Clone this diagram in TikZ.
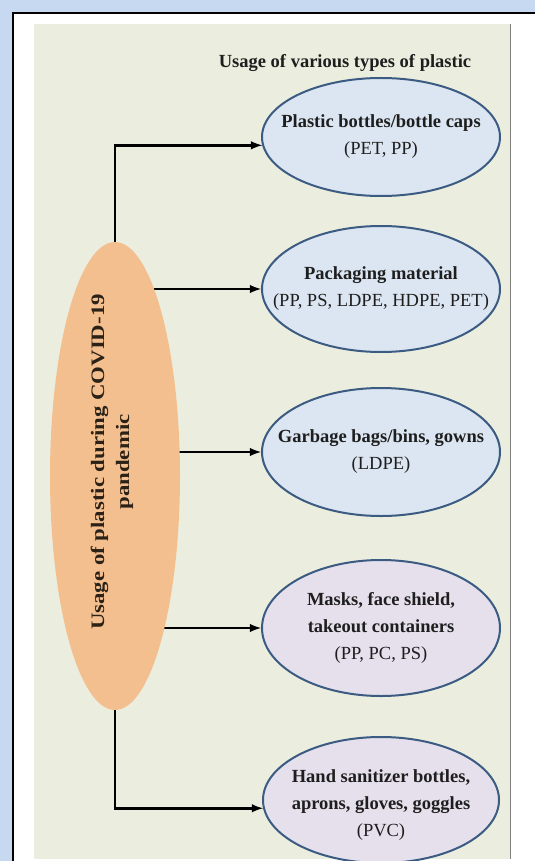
\documentclass[tikz,border=0pt]{standalone}
\usepackage{fontspec}
\setmainfont{Liberation Serif}
\newfontfamily\hubfont[FakeStretch=1.2]{Liberation Serif}
\usetikzlibrary{positioning,shapes,arrows,calc}
\definecolor{pageblue}{HTML}{C6D9F0}
\definecolor{panelfill}{HTML}{EBEEDF}
\definecolor{hubfill}{HTML}{F3BF8F}
\definecolor{usefill}{HTML}{DCE6F2}
\definecolor{maskfill}{HTML}{E5E0EC}
\definecolor{useline}{HTML}{3B5B82}
\definecolor{inktext}{HTML}{1E1E1E}
\definecolor{hubtext}{HTML}{2B2117}
\pgfdeclarelayer{background}
\pgfdeclarelayer{links}
\pgfsetlayers{background,links,main}

\begin{document}
\begin{tikzpicture}[x=1pt,y=1pt,
  hub/.style={ellipse, fill=hubfill, minimum width=130pt, minimum height=468pt, inner sep=0pt},
  hubtext/.style={rotate=90, align=center, text=hubtext, font=\hubfont\bfseries\fontsize{19}{25}\selectfont},
  usage/.style={ellipse, draw=useline, line width=2pt, fill=usefill, minimum width=238pt, inner sep=0pt},
  usetext/.style={align=center, text=inktext, font=\fontsize{18.5}{27}\selectfont},
  link/.style={-latex, line width=2.8pt, black}]
\useasboundingbox (0,0) rectangle (535,-861);

% frame and panel
\begin{pgfonlayer}{background}
  \fill[pageblue] (0,0) rectangle (535,-861);
  \fill[white] (13,-13) rectangle (535,-861);
  \draw[line width=2pt] (13,-861) -- (13,-13) -- (535,-13);
  \fill[panelfill] (34,-24) rectangle (510,-859);
  \draw[gray, line width=1pt] (510,-24) -- (510,-859);
\end{pgfonlayer}

\node[font=\bfseries\fontsize{18.5}{22}\selectfont, text=inktext] (title) at (345,-63) {Usage of various types of plastic};

% centre
\node[hub] (hub) at (115,-476) {};
\node[hubtext] (hub-t) at (112,-462) {Usage of plastic during COVID-19\\pandemic};

% uses
\node[usage, minimum height=118pt] (bottle) at (381,-137) {};
\node[usetext] (bottle-t) at (bottle) {\textbf{Plastic bottles/bottle caps}\\(PET, PP)};
\node[usage, minimum height=126pt] (pack) at (381,-289) {};
\node[usetext] (pack-t) at (pack) {\textbf{Packaging material}\\(PP, PS, LDPE, HDPE, PET)};
\node[usage, minimum height=128pt] (bags) at (381,-452) {};
\node[usetext] (bags-t) at (bags) {\textbf{Garbage bags/bins, gowns}\\(LDPE)};
\node[usage, fill=maskfill, minimum height=136pt] (masks) at (381,-628) {};
\node[usetext] (masks-t) at (masks) {\textbf{Masks, face shield,}\\\textbf{takeout containers}\\(PP, PC, PS)};
\node[usage, fill=maskfill, minimum width=236pt, minimum height=126pt] (sanit) at (381,-800) {};
\node[usetext] (sanit-t) at ([yshift=-5pt]sanit.center) {\textbf{Hand sanitizer bottles,}\\\textbf{aprons, gloves, goggles}\\(PVC)};

% connectors
\begin{pgfonlayer}{links}
  \draw[link] (hub.north) |- (bottle.184);
  \draw[link] (hub.center |- pack.west) -- (pack.west);
  \draw[link] (hub.center |- bags.west) -- (bags.west);
  \draw[link] (hub.center |- masks.west) -- (masks.west);
  \draw[link] (hub.south) |- (sanit.184);
\end{pgfonlayer}
\end{tikzpicture}
\end{document}
